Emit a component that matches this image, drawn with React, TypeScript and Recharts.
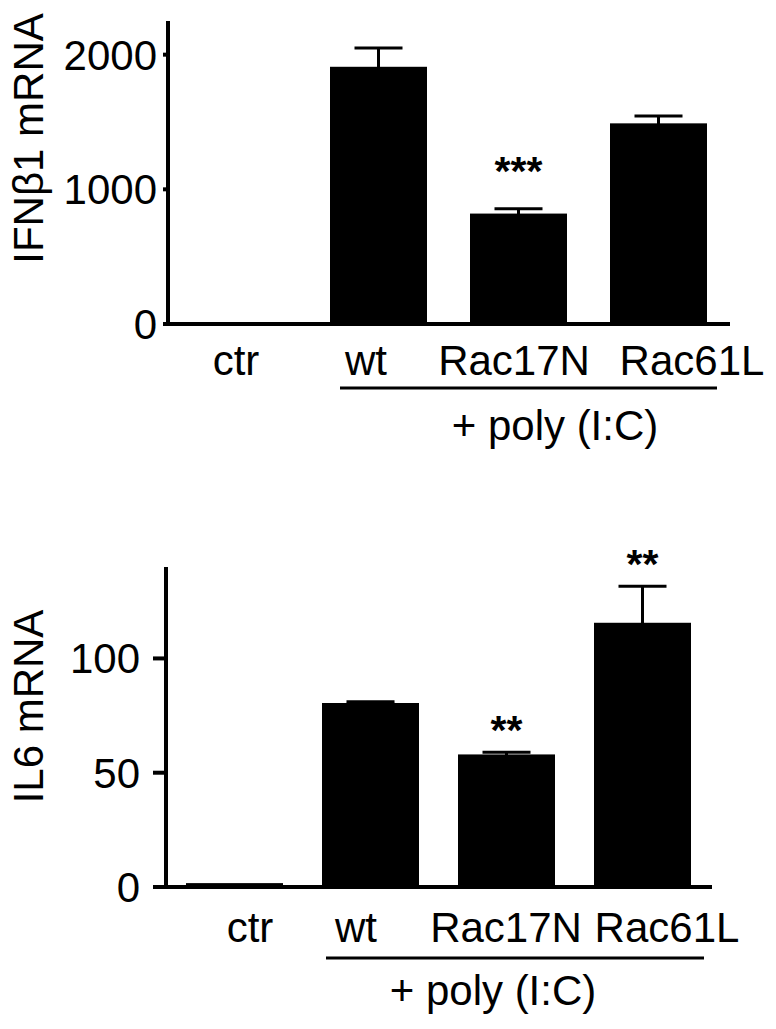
import React from 'react';
import { BarChart, Bar, XAxis, YAxis, ErrorBar, ReferenceLine } from 'recharts';

const FONT = '"Liberation Sans", Arial, Helvetica, sans-serif';

// ---- data ----
const categories = ['ctr', 'wt', 'Rac17N', 'Rac61L'];

const ifnValues = [0, 1910, 820, 1490];
const ifnErrors = [0, 140, 36, 55];
const ifnStars = ['', '', '***', ''];
const ifnTicks = [0, 1000, 2000];

const il6Values = [1.7, 80.5, 58, 115.6];
const il6Errors = [0, 0.5, 1, 16];
const il6Stars = ['', '', '**', '**'];
const il6Ticks = [0, 50, 100];

const groupLabel = '+ poly (I:C)';
const ifnTitle = 'IFNβ1 mRNA';
const il6Title = 'IL6 mRNA';

// label shifts (styling only)
const ifnLabelShift = [-2, -12, -4, 34];
const il6LabelShift = [16, -14, 0, 25];

type Row = { name: string; value: number; err: number; stars: string };

function makeRows(values: number[], errors: number[], stars: string[]): Row[] {
  return categories.map((name, i) => ({ name, value: values[i], err: errors[i], stars: stars[i] }));
}

const ifnRows = makeRows(ifnValues, ifnErrors, ifnStars);
const il6Rows = makeRows(il6Values, il6Errors, il6Stars);

const makeBarShape = (starOffset: number) => (props: any) => {
  const { x, y, width, height } = props;
  const p: Row = props.payload ?? props;
  const ppu = p.value > 0 ? height / p.value : 0;
  const errTop = y - p.err * ppu;
  return (
    <g>
      <rect x={x} y={y} width={width} height={Math.max(0, height)} fill="#000" />
      {p.stars ? (
        <text
          x={x + width / 2}
          y={errTop - starOffset}
          textAnchor="middle"
          fontSize={41}
          fontWeight="bold"
          fontFamily={FONT}
          fill="#000"
        >
          {p.stars}
        </text>
      ) : null}
    </g>
  );
};

const makeTick = (shifts: number[], baselineDy: number) => (props: any) => {
  const { x, y, payload } = props;
  const idx = typeof props.index === 'number' ? props.index : categories.indexOf(payload.value);
  return (
    <text
      x={x + (shifts[idx] ?? 0)}
      y={y + baselineDy}
      textAnchor="middle"
      fontSize={42}
      fontFamily={FONT}
      fill="#000"
    >
      {payload.value}
    </text>
  );
};

const makeYLabel = (text: string, cx: number, cy: number) => () => (
  <text
    x={cx}
    y={cy}
    transform={`rotate(-90 ${cx} ${cy})`}
    textAnchor="middle"
    fontSize={42}
    fontFamily={FONT}
    fill="#000"
  >
    {text}
  </text>
);

const makeBaseline = (left: number, right: number) => (p: any) => (
  <line x1={p.x1 - left} y1={p.y1} x2={p.x2 + right} y2={p.y2} stroke="#000" strokeWidth={4} />
);

export default function App() {
  return (
    <div
      style={{
        position: 'absolute',
        left: 0,
        top: 0,
        width: 776,
        height: 1029,
        background: '#fff',
        overflow: 'hidden',
      }}
    >
      <div style={{ position: 'absolute', left: 0, top: 0 }}>
        <BarChart
          width={776}
          height={520}
          data={ifnRows}
          margin={{ top: 21, right: 48, left: 0, bottom: 136 }}
        >
          <XAxis
            dataKey="name"
            height={60}
            axisLine={false}
            tickLine={false}
            tickSize={0}
            tickMargin={0}
            interval={0}
            tick={makeTick(ifnLabelShift, 51)}
          />
          <YAxis
            width={168}
            domain={[0, 2250]}
            ticks={ifnTicks}
            interval={0}
            tickSize={5}
            tickMargin={6}
            axisLine={{ stroke: '#000', strokeWidth: 4 }}
            tickLine={{ stroke: '#000', strokeWidth: 4 }}
            tick={{ fill: '#000', fontSize: 42, fontFamily: FONT }}
            label={makeYLabel(ifnTitle, 43, 138.5)}
          />
          <Bar dataKey="value" barSize={97} isAnimationActive={false} shape={makeBarShape(24)}>
            <ErrorBar dataKey="err" direction="y" width={24} strokeWidth={3} stroke="#000" isAnimationActive={false} />
          </Bar>
          <ReferenceLine y={0} shape={makeBaseline(5, 2)} />
        </BarChart>
      </div>

      <div style={{ position: 'absolute', left: 0, top: 520 }}>
        <BarChart
          width={776}
          height={509}
          data={il6Rows}
          margin={{ top: 47, right: 66, left: 0, bottom: 82 }}
        >
          <XAxis
            dataKey="name"
            height={60}
            axisLine={false}
            tickLine={false}
            tickSize={0}
            tickMargin={0}
            interval={0}
            tick={makeTick(il6LabelShift, 55)}
          />
          <YAxis
            width={166}
            domain={[0, 140]}
            ticks={il6Ticks}
            interval={0}
            tickSize={13}
            tickMargin={13}
            axisLine={{ stroke: '#000', strokeWidth: 4 }}
            tickLine={{ stroke: '#000', strokeWidth: 4 }}
            tick={{ fill: '#000', fontSize: 42, fontFamily: FONT }}
            label={makeYLabel(il6Title, 43, 186.5)}
          />
          <Bar dataKey="value" barSize={97} isAnimationActive={false} shape={makeBarShape(8)}>
            <ErrorBar dataKey="err" direction="y" width={24} strokeWidth={3} stroke="#000" isAnimationActive={false} />
          </Bar>
          <ReferenceLine y={0} shape={makeBaseline(13, 2)} />
        </BarChart>
      </div>

      <svg
        width={776}
        height={1029}
        style={{ position: 'absolute', left: 0, top: 0, pointerEvents: 'none' }}
      >
        <line x1={340} y1={388} x2={717} y2={388} stroke="#000" strokeWidth={3} />
        <text x={555} y={440} textAnchor="middle" fontSize={42} fontFamily={FONT} fill="#000">
          {groupLabel}
        </text>
        <line x1={326} y1={958} x2={704} y2={958} stroke="#000" strokeWidth={3} />
        <text x={493} y={1005} textAnchor="middle" fontSize={42} fontFamily={FONT} fill="#000">
          {groupLabel}
        </text>
      </svg>
    </div>
  );
}
